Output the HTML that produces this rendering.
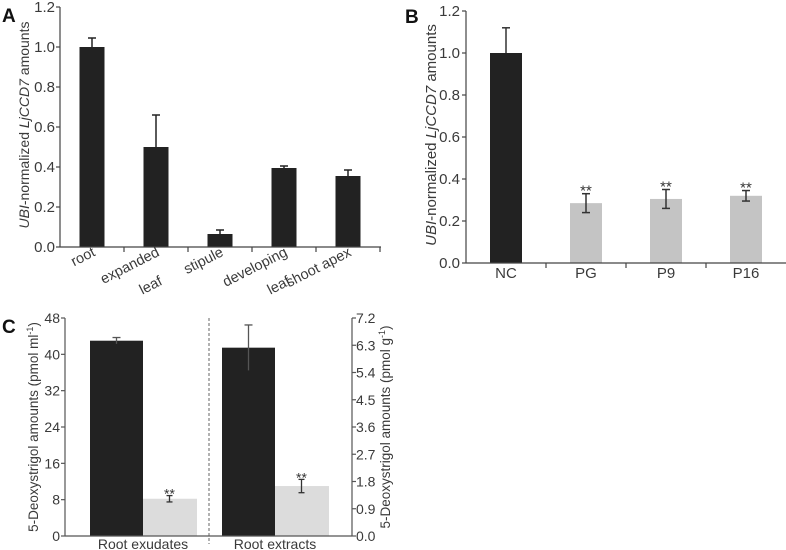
<!DOCTYPE html>
<html><head><meta charset="utf-8"><style>
body{margin:0;background:#fff}
#wrap{position:relative;width:786px;height:550px;overflow:hidden}
svg{display:block;font-family:"Liberation Sans",Arial,sans-serif}
.xl{position:absolute;width:110px;text-align:right;font-family:"Liberation Sans",Arial,sans-serif;font-size:14.5px;line-height:17px;color:#3a3a3a;transform:rotate(-27deg);transform-origin:100% 80%;white-space:nowrap}
</style></head><body>
<div id="wrap">
<svg id="fig" width="786" height="550" viewBox="0 0 786 550">
<g id="A"></g>
<g id="B"></g>
<g id="C"></g>
</svg>
</div>
<script>
const aCats=[["root"],["expanded","leaf"],["stipule"],["developing","leaf"],["shoot apex"]];
const aVals=[1.0,0.5,0.065,0.395,0.355];
const aErr=[0.045,0.16,0.02,0.01,0.03];
const aTicks=[0,0.2,0.4,0.6,0.8,1.0,1.2];
const bCats=["NC","PG","P9","P16"];
const bVals=[1.0,0.285,0.305,0.32];
const bErr=[0.12,0.045,0.045,0.025];
const cGroups=["Root exudates","Root extracts"];
const cCtrl=[43,6.22];
const cCtrlErr=[0.7,0.75];
const cMut=[8.2,1.65];
const cMutErr=[0.7,0.22];
const cLeftTicks=[0,8,16,24,32,40,48];
const cRightTicks=["0.0","0.9","1.8","2.7","3.6","4.5","5.4","6.3","7.2"];

const NS="http://www.w3.org/2000/svg";
function el(parent,tag,attrs,text){const e=document.createElementNS(NS,tag);for(const k in attrs)e.setAttribute(k,attrs[k]);if(text!==undefined)e.textContent=text;parent.appendChild(e);return e;}
const TC="#3a3a3a", BLK="#222", GRY="#c4c4c4", GRY2="#dcdcdc";
const wrap=document.getElementById('wrap');

// Panel A
(function(){
const g=document.getElementById('A');
const x0=60,x1=381,y0=247,pxPer=200,cw=64,bw=25;
const y=v=>y0-v*pxPer;
let t=el(g,'text',{x:2,y:22,'font-size':19,'font-weight':'bold',fill:'#111'},'A');


aVals.forEach((v,i)=>{
 const cx=x0+cw/2+cw*i;
 const e=el(g,'line',{x1:cx,x2:cx,y1:y(v),y2:y(v+aErr[i]),stroke:BLK,'stroke-width':1.5});
 
 
 el(g,'line',{x1:cx-4,x2:cx+4,y1:y(v+aErr[i]),y2:y(v+aErr[i]),stroke:BLK,'stroke-width':1.5});
 const r=el(g,'rect',{x:cx-bw/2,y:y(v),width:bw,height:v*pxPer,fill:BLK});
 
 
 aCats[i].forEach((ln,j)=>{
  const lx=cx+5+(j?3:0), ly=257+j*29;
  const d=document.createElement('div');
  d.className='xl';
  d.textContent=ln;
  d.style.left=(lx-110)+'px';
  d.style.top=(ly-13.6)+'px';
  
  
  wrap.appendChild(d);
 });
});
el(g,'line',{x1:x0,x2:x0,y1:7,y2:y0,stroke:'#444','stroke-width':1.2});
el(g,'line',{x1:x0,x2:x1,y1:y0,y2:y0,stroke:'#444','stroke-width':1.2});
for(let i=1;i<=5;i++)el(g,'line',{x1:x0+cw*i,x2:x0+cw*i,y1:y0,y2:y0+5,stroke:'#444','stroke-width':1.2});
aTicks.forEach(v=>{
 el(g,'line',{x1:x0-4,x2:x0,y1:y(v),y2:y(v),stroke:'#444','stroke-width':1.2});
 const tt=el(g,'text',{x:x0-5,y:y(v)+5,'font-size':15,fill:TC,'text-anchor':'end'},v.toFixed(1));
 
 
});
const yt=el(g,'text',{x:0,y:0,'font-size':14,fill:TC,'text-anchor':'middle',transform:'translate(29,125) rotate(-90)'});
yt.innerHTML='<tspan font-style="italic">UBI</tspan>-normalized <tspan font-style="italic">LjCCD7</tspan> amounts';


})();

// Panel B
(function(){
const g=document.getElementById('B');
const x0=466,x1=786,y0=263,pxPer=210,cw=80,bw=32;
const y=v=>y0-v*pxPer;
let t=el(g,'text',{x:405,y:23,'font-size':19,'font-weight':'bold',fill:'#111'},'B');


bVals.forEach((v,i)=>{
 const cx=x0+cw/2+cw*i;
 const r=el(g,'rect',{x:cx-bw/2,y:y(v),width:bw,height:v*pxPer,fill:i?GRY:BLK});
 
 
 const lo=i?v-bErr[i]:v, hi=v+bErr[i];
 const e=el(g,'line',{x1:cx,x2:cx,y1:y(lo),y2:y(hi),stroke:'#333','stroke-width':1.5});
 
 
 el(g,'line',{x1:cx-4,x2:cx+4,y1:y(hi),y2:y(hi),stroke:'#333','stroke-width':1.5});
 if(i){el(g,'line',{x1:cx-4,x2:cx+4,y1:y(lo),y2:y(lo),stroke:'#333','stroke-width':1.5});
  const s=el(g,'text',{x:cx,y:y(hi)+2,'font-size':15,fill:'#333','text-anchor':'middle'},'**');
  
  }
 const tt=el(g,'text',{x:cx,y:278,'font-size':15,fill:TC,'text-anchor':'middle'},bCats[i]);
 
 
});
el(g,'line',{x1:x0,x2:x0,y1:11,y2:y0,stroke:'#444','stroke-width':1.2});
el(g,'line',{x1:x0,x2:x1,y1:y0,y2:y0,stroke:'#444','stroke-width':1.2});
for(let i=1;i<=3;i++)el(g,'line',{x1:x0+cw*i,x2:x0+cw*i,y1:y0,y2:y0+5,stroke:'#444','stroke-width':1.2});
aTicks.forEach(v=>{
 el(g,'line',{x1:x0-4,x2:x0,y1:y(v),y2:y(v),stroke:'#444','stroke-width':1.2});
 const tt=el(g,'text',{x:x0-6,y:y(v)+5,'font-size':15,fill:TC,'text-anchor':'end'},v.toFixed(1));
 
 
});
const yt=el(g,'text',{x:0,y:0,'font-size':15,fill:TC,'text-anchor':'middle',transform:'translate(436,135) rotate(-90)'});
yt.innerHTML='<tspan font-style="italic">UBI</tspan>-normalized <tspan font-style="italic">LjCCD7</tspan> amounts';


})();

// Panel C
(function(){
const g=document.getElementById('C');
const x0=65,x1=352,y0=536,top=318,H=y0-top;
const yl=v=>y0-v/48*H, yr=v=>y0-v/7.2*H;
let t=el(g,'text',{x:2,y:333,'font-size':19,'font-weight':'bold',fill:'#111'},'C');


const gx=[90,222], bw=53;
cGroups.forEach((name,i)=>{
 const y=i?yr:yl;
 const bx=gx[i];
 const rb=el(g,'rect',{x:bx,y:y(cCtrl[i]),width:bw,height:y0-y(cCtrl[i]),fill:BLK});
 
 
 const rg=el(g,'rect',{x:bx+bw,y:y(cMut[i]),width:bw+1,height:y0-y(cMut[i]),fill:GRY2});
 
 
 let cx=bx+bw/2;
 el(g,'line',{x1:cx,x2:cx,y1:y(cCtrl[i]-cCtrlErr[i]),y2:y(cCtrl[i]+cCtrlErr[i]),stroke:'#555','stroke-width':1.3});
 el(g,'line',{x1:cx-4,x2:cx+4,y1:y(cCtrl[i]+cCtrlErr[i]),y2:y(cCtrl[i]+cCtrlErr[i]),stroke:'#555','stroke-width':1.3});
 cx=bx+bw*1.5;
 const lo=y(cMut[i]-cMutErr[i]), hi=y(cMut[i]+cMutErr[i]);
 el(g,'line',{x1:cx,x2:cx,y1:lo,y2:hi,stroke:'#333','stroke-width':1.3});
 el(g,'line',{x1:cx-3,x2:cx+3,y1:lo,y2:lo,stroke:'#333','stroke-width':1.3});
 el(g,'line',{x1:cx-3,x2:cx+3,y1:hi,y2:hi,stroke:'#333','stroke-width':1.3});
 const s=el(g,'text',{x:cx,y:hi+3,'font-size':14,fill:'#333','text-anchor':'middle'},'**');
 
 
 const tt=el(g,'text',{x:bx+bw,y:549,'font-size':14,fill:TC,'text-anchor':'middle'},name);
 
 
});
const d=el(g,'line',{x1:209,x2:209,y1:top,y2:y0+8,stroke:'#666','stroke-width':1,'stroke-dasharray':'3,2'});


el(g,'line',{x1:x0,x2:x0,y1:top,y2:y0,stroke:'#555','stroke-width':1.2});
el(g,'line',{x1:x1,x2:x1,y1:top,y2:y0,stroke:'#555','stroke-width':1.2});
el(g,'line',{x1:x0,x2:x1,y1:y0,y2:y0,stroke:'#555','stroke-width':1.2});
cLeftTicks.forEach(v=>{
 el(g,'line',{x1:x0-4,x2:x0,y1:yl(v),y2:yl(v),stroke:'#555','stroke-width':1.2});
 const tt=el(g,'text',{x:x0-5,y:yl(v)+5,'font-size':14,fill:TC,'text-anchor':'end'},String(v));
 
 
});
cRightTicks.forEach(s=>{
 const v=parseFloat(s);
 el(g,'line',{x1:x1,x2:x1+4,y1:yr(v),y2:yr(v),stroke:'#555','stroke-width':1.2});
 const tt=el(g,'text',{x:x1+4,y:yr(v)+5,'font-size':14,fill:TC},s);
 
 
});
const yt=el(g,'text',{x:0,y:0,'font-size':13.5,fill:TC,'text-anchor':'middle',transform:'translate(38,427) rotate(-90)'});
yt.innerHTML='5-Deoxystrigol amounts (pmol ml<tspan font-size="9" dy="-5">-1</tspan><tspan dy="5">)</tspan>';


const yt2=el(g,'text',{x:0,y:0,'font-size':13.5,fill:TC,'text-anchor':'middle',transform:'translate(390,427) rotate(-90)'});
yt2.innerHTML='5-Deoxystrigol amounts (pmol g<tspan font-size="9" dy="-5">-1</tspan><tspan dy="5">)</tspan>';


})();
</script>
</body></html>
